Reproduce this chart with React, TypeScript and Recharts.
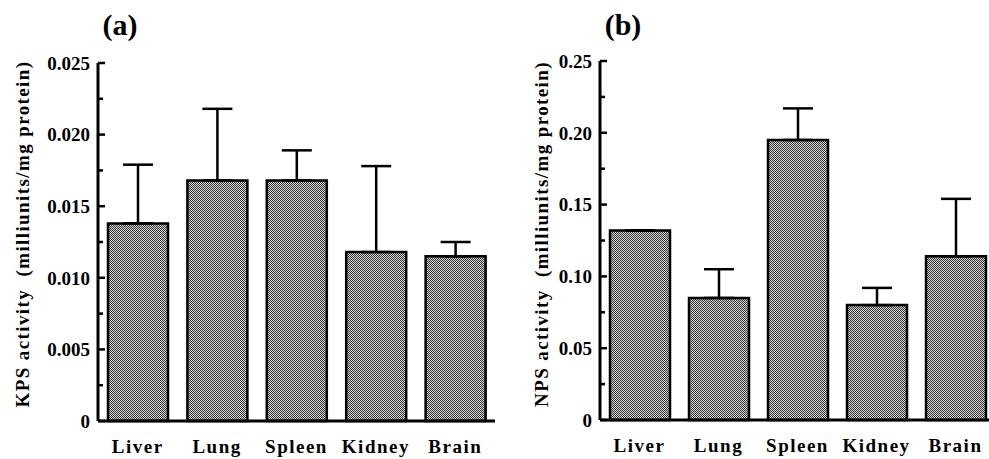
import React from "react";
import { BarChart, Bar, XAxis, YAxis, ErrorBar } from "recharts";

// organs on the x axis, both panels
const organs = ["Liver", "Lung", "Spleen", "Kidney", "Brain"];

// panel (a) KPS activity
const kpsMean = [0.0138, 0.0168, 0.0168, 0.0118, 0.0115];
const kpsErr = [0.0041, 0.005, 0.0021, 0.006, 0.001];
const kpsTicks = [0, 0.0025, 0.005, 0.0075, 0.01, 0.0125, 0.015, 0.0175, 0.02, 0.0225, 0.025];
const kpsLabels = ["0", "0.005", "0.010", "0.015", "0.020", "0.025"];

// panel (b) NPS activity
const npsMean = [0.132, 0.085, 0.195, 0.08, 0.114];
const npsErr = [0, 0.02, 0.022, 0.012, 0.04];
const npsTicks = [0, 0.025, 0.05, 0.075, 0.1, 0.125, 0.15, 0.175, 0.2, 0.225, 0.25];
const npsLabels = ["0", "0.05", "0.10", "0.15", "0.20", "0.25"];

const FONT = "'Liberation Serif', 'Times New Roman', serif";

if (typeof document !== "undefined") {
  document.body.style.margin = "0";
  document.body.style.overflow = "hidden";
}

const rows = (mean: number[], err: number[]) =>
  organs.map((name, i) => ({ name, value: mean[i], err: [0, err[i]] }));

function YTick(props: any) {
  const { x, y, payload, labels, step } = props;
  const k = Math.round(payload.value / step);
  const major = k % 2 === 0;
  return (
    <g>
      <line x1={x} x2={x + (major ? 7 : 5)} y1={y} y2={y} stroke="#000" strokeWidth={2.5} />
      {major && (
        <text x={x - 8} y={y} dy="0.36em" textAnchor="end" fontFamily={FONT} fontWeight="bold" fontSize={19} fill="#000">
          {labels[k / 2]}
        </text>
      )}
    </g>
  );
}

function XTick(props: any) {
  const { x, y, payload } = props;
  return (
    <text x={x} y={y + 32} textAnchor="middle" fontFamily={FONT} fontWeight="bold" fontSize={19} letterSpacing={1.5} fill="#000">
      {payload.value}
    </text>
  );
}

type PanelProps = {
  left: number;
  title: string;
  yLabel: string;
  mean: number[];
  err: number[];
  ticks: number[];
  labels: string[];
  step: number;
  max: number;
  margin: { top: number; right: number; bottom: number; left: number };
  labelX: number;
  titleX: number;
};

function Panel(p: PanelProps) {
  return (
    <div style={{ position: "absolute", left: p.left, top: 0, width: 510, height: 459 }}>
      <BarChart width={510} height={459} data={rows(p.mean, p.err)} margin={p.margin}>
        <XAxis
          xAxisId="b"
          dataKey="name"
          height={30}
          axisLine={{ stroke: "#000", strokeWidth: 3 }}
          tickLine={false}
          tickSize={0}
          tickMargin={0}
          tick={<XTick />}
          interval={0}
        />
        <XAxis
          xAxisId="t"
          orientation="top"
          dataKey="name"
          height={0}
          axisLine={{ stroke: "#000", strokeWidth: 3 }}
          tickLine={false}
          tick={false}
        />
        <YAxis
          yAxisId="l"
          width={60}
          domain={[0, p.max]}
          ticks={p.ticks}
          interval={0}
          axisLine={{ stroke: "#000", strokeWidth: 3 }}
          tickLine={false}
          tickSize={0}
          tickMargin={0}
          tick={<YTick labels={p.labels} step={p.step} />}
        />
        <YAxis
          yAxisId="r"
          orientation="right"
          width={0}
          domain={[0, p.max]}
          axisLine={{ stroke: "#000", strokeWidth: 3 }}
          tickLine={false}
          tick={false}
        />
        <Bar
          xAxisId="b"
          yAxisId="l"
          dataKey="value"
          barSize={60}
          fill="url(#dither)"
          stroke="#000"
          strokeWidth={2.5}
          isAnimationActive={false}
        >
          <ErrorBar dataKey="err" width={15} stroke="#000" strokeWidth={2.5} direction="y" />
        </Bar>
      </BarChart>
      <svg width={510} height={459} style={{ position: "absolute", left: 0, top: 0, pointerEvents: "none" }}>
        <text x={p.titleX} y={35} textAnchor="middle" fontFamily={FONT} fontWeight="bold" fontSize={30} fill="#000">
          {p.title}
        </text>
        <text
          x={p.labelX}
          y={234}
          transform={`rotate(-90 ${p.labelX} 234)`}
          textAnchor="middle"
          dominantBaseline="central"
          fontFamily={FONT}
          fontWeight="bold"
          fontSize={19}
          letterSpacing={1.4}
          fill="#000"
        >
          {p.yLabel}
        </text>
      </svg>
    </div>
  );
}

export default function App() {
  return (
    <div style={{ position: "relative", width: 989, height: 459, overflow: "hidden", background: "#fff" }}>
      <svg width={0} height={0} style={{ position: "absolute" }}>
        <defs>
          <pattern id="dither" patternUnits="userSpaceOnUse" width={2} height={2}>
            <rect x={0} y={0} width={2} height={2} fill="#d8d8d8" />
            <rect x={0} y={0} width={1} height={1} fill="#333" />
            <rect x={1} y={1} width={1} height={1} fill="#333" />
          </pattern>
        </defs>
      </svg>
      <Panel
        left={0}
        title="(a)"
        yLabel={"KPS activity\u00a0\u00a0(milliunits/mg protein)"}
        mean={kpsMean}
        err={kpsErr}
        ticks={kpsTicks}
        labels={kpsLabels}
        step={0.0025}
        max={0.025}
        margin={{ top: 63, right: 15, bottom: 8, left: 38 }}
        labelX={22}
        titleX={120}
      />
      <Panel
        left={500}
        title="(b)"
        yLabel={"NPS activity\u00a0\u00a0(milliunits/mg protein)"}
        mean={npsMean}
        err={npsErr}
        ticks={npsTicks}
        labels={npsLabels}
        step={0.025}
        max={0.25}
        margin={{ top: 61, right: 15, bottom: 9, left: 40 }}
        labelX={41}
        titleX={123}
      />
    </div>
  );
}
